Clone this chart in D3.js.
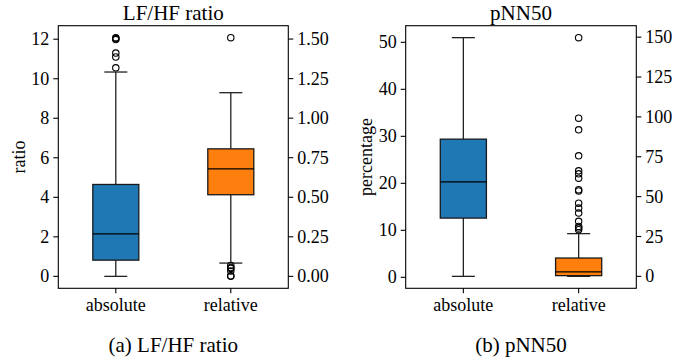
<!DOCTYPE html>
<html><head><meta charset="utf-8">
<script src="https://cdn.jsdelivr.net/npm/d3@7"></script>
<style>
body{margin:0;background:#fff}
text{font-family:"Liberation Serif","Times New Roman",serif;fill:#000}
</style></head>
<body><svg id="c" width="686" height="362"></svg>
<script>
// ---------- data ----------
const categories = ["absolute", "relative"];
const titles = ["LF/HF ratio", "pNN50"];
const captions = ["(a) LF/HF ratio", "(b) pNN50"];
const yLabels = ["ratio", "percentage"];
// box statistics: [whiskerLow, Q1, median, Q3, whiskerHigh]
const lfhfAbsolute = [0.0, 0.82, 2.15, 4.65, 10.34];
const lfhfAbsoluteOutliers = [10.55, 11.1, 11.3, 11.98, 12.03, 12.08];
const lfhfRelative = [0.084, 0.516, 0.679, 0.806, 1.161];
const lfhfRelativeOutliers = [0.0, 0.004, 0.034, 0.05, 0.056, 0.069, 1.509];
const pnnAbsolute = [0.2, 12.6, 20.3, 29.4, 51.0];
const pnnAbsoluteOutliers = [];
const pnnRelative = [0.0, 0.45, 2.8, 11.5, 26.8];
const pnnRelativeOutliers = [29.3, 30.3, 31.3, 34.5, 39.7, 42.8, 45.9, 53.6, 54.3, 61.6, 64.3, 66.2, 75.6, 91.9, 99.2, 149.7];
// tick values
const lfhfLeftTicks = [0, 2, 4, 6, 8, 10, 12];
const lfhfRightTicks = [0, 0.25, 0.5, 0.75, 1.0, 1.25, 1.5];
const pnnLeftTicks = [0, 10, 20, 30, 40, 50];
const pnnRightTicks = [0, 25, 50, 75, 100, 125, 150];
const colors = ["#1f77b4", "#ff7f0e"];

const panels = [
  {x0: 58.3, x1: 288.3, title: titles[0], caption: captions[0], ylab: yLabels[0], ylabX: 25,
   boxes: [{s: lfhfAbsolute, o: lfhfAbsoluteOutliers}, {s: lfhfRelative, o: lfhfRelativeOutliers}],
   lt: lfhfLeftTicks, rt: lfhfRightTicks, lf: d3.format("d"), rf: d3.format(".2f")},
  {x0: 405.7, x1: 636.3, title: titles[1], caption: captions[1], ylab: yLabels[1], ylabX: 372,
   boxes: [{s: pnnAbsolute, o: pnnAbsoluteOutliers}, {s: pnnRelative, o: pnnRelativeOutliers}],
   lt: pnnLeftTicks, rt: pnnRightTicks, lf: d3.format("d"), rf: d3.format("d")}
];

const svg = d3.select("#c");
const y0 = 25.7, y1 = 288.3;
const tickLen = 5, pad = 4;

function domainOf(b) {
  const vals = b.s.concat(b.o);
  const mn = d3.min(vals), mx = d3.max(vals), m = (mx - mn) * 0.05;
  return [mn - m, mx + m];
}

panels.forEach(p => {
  const g = svg.append("g");
  const x = d3.scaleLinear().domain([0.5, 2.5]).range([p.x0, p.x1]);
  const yL = d3.scaleLinear().domain(domainOf(p.boxes[0])).range([y1, y0]);
  const yR = d3.scaleLinear().domain(domainOf(p.boxes[1])).range([y1, y0]);
  const scales = [yL, yR];
  const bw = x(1.2) - x(1.0); // half-width of box (0.4 wide)

  p.boxes.forEach((b, i) => {
    const y = scales[i], cx = x(i + 1), s = b.s;
    const cw = bw / 2;
    // whiskers
    g.append("line").attr("x1", cx).attr("x2", cx).attr("y1", y(s[3])).attr("y2", y(s[4]))
      .attr("stroke", "#222").attr("stroke-width", 1.3);
    g.append("line").attr("x1", cx).attr("x2", cx).attr("y1", y(s[1])).attr("y2", y(s[0]))
      .attr("stroke", "#222").attr("stroke-width", 1.3);
    [s[0], s[4]].forEach(v => g.append("line").attr("x1", cx - cw).attr("x2", cx + cw)
      .attr("y1", y(v)).attr("y2", y(v)).attr("stroke", "#222").attr("stroke-width", 1.3));
    // box
    g.append("rect").attr("x", cx - bw).attr("width", 2 * bw)
      .attr("y", y(s[3])).attr("height", y(s[1]) - y(s[3]))
      .attr("fill", colors[i]).attr("stroke", "#1a1a1a").attr("stroke-width", 1.3);
    // median
    g.append("line").attr("x1", cx - bw).attr("x2", cx + bw).attr("y1", y(s[2])).attr("y2", y(s[2]))
      .attr("stroke", "#000").attr("stroke-width", 1.3);
    // outliers
    g.selectAll(null).data(b.o).enter().append("circle")
      .attr("cx", cx).attr("cy", d => y(d)).attr("r", 3.2)
      .attr("fill", "none").attr("stroke", "#000").attr("stroke-width", 1.1);
  });

  // frame
  g.append("rect").attr("x", p.x0).attr("y", y0).attr("width", p.x1 - p.x0).attr("height", y1 - y0)
    .attr("fill", "none").attr("stroke", "#000").attr("stroke-width", 1.1);

  // left ticks
  p.lt.forEach(t => {
    g.append("line").attr("x1", p.x0 - tickLen).attr("x2", p.x0).attr("y1", yL(t)).attr("y2", yL(t))
      .attr("stroke", "#000").attr("stroke-width", 1.1);
    g.append("text").attr("x", p.x0 - tickLen - pad).attr("y", yL(t)).attr("dy", "0.34em")
      .attr("text-anchor", "end").attr("font-size", 18).text(p.lf(t));
  });
  // right ticks
  p.rt.forEach(t => {
    g.append("line").attr("x1", p.x1).attr("x2", p.x1 + tickLen).attr("y1", yR(t)).attr("y2", yR(t))
      .attr("stroke", "#000").attr("stroke-width", 1.1);
    g.append("text").attr("x", p.x1 + tickLen + pad).attr("y", yR(t)).attr("dy", "0.34em")
      .attr("text-anchor", "start").attr("font-size", 18).text(p.rf(t));
  });
  // x ticks
  categories.forEach((c, i) => {
    const cx = x(i + 1);
    g.append("line").attr("x1", cx).attr("x2", cx).attr("y1", y1).attr("y2", y1 + tickLen)
      .attr("stroke", "#000").attr("stroke-width", 1.1);
    g.append("text").attr("x", cx).attr("y", 311).attr("text-anchor", "middle")
      .attr("font-size", 18).text(c);
  });
  const mid = (p.x0 + p.x1) / 2;
  g.append("text").attr("x", mid).attr("y", 19.5).attr("text-anchor", "middle")
    .attr("font-size", 21).text(p.title);
  g.append("text").attr("x", mid).attr("y", 351.5).attr("text-anchor", "middle")
    .attr("font-size", 21).text(p.caption);
  g.append("text").attr("transform", `translate(${p.ylabX},${(y0 + y1) / 2}) rotate(-90)`)
    .attr("text-anchor", "middle").attr("font-size", 18).text(p.ylab);
});
</script></body></html>
